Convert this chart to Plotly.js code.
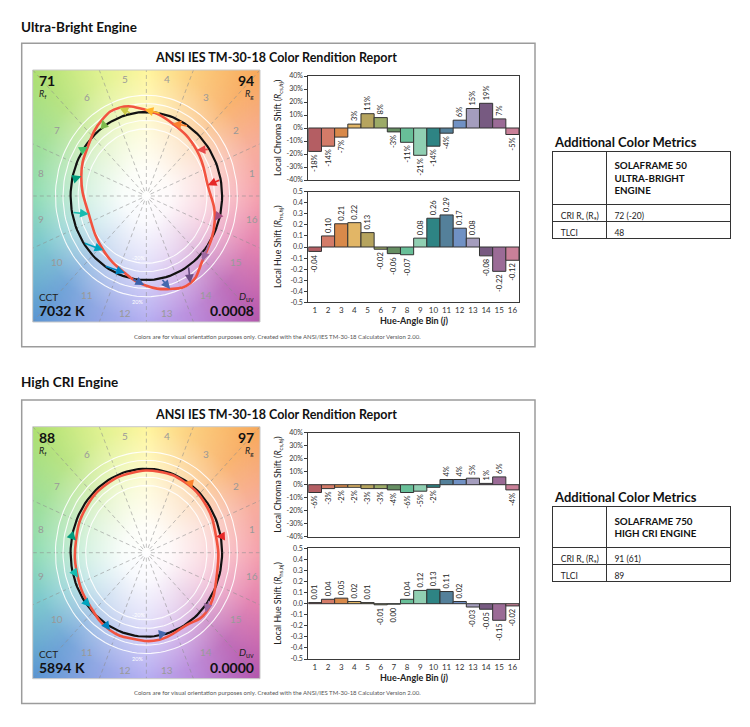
<!DOCTYPE html>
<html><head><meta charset="utf-8">
<script src="https://cdn.plot.ly/plotly-3.0.1.min.js"></script>
<style>html,body{margin:0;padding:0;background:#fff;}#chart{width:750px;height:727px;}</style>
</head><body><div id="chart"></div>
<script>
// ---------- DATA ----------
const bins = [1,2,3,4,5,6,7,8,9,10,11,12,13,14,15,16];
const binTickText = ['1','2','3','4','5','6','7','8','9','10','11','12','13','14','15','16'];
const chromaTickVals = [-40,-30,-20,-10,0,10,20,30,40];
const chromaTickText = ['-40%','-30%','-20%','-10%','0%','10%','20%','30%','40%'];
const hueTickVals = [-0.5,-0.4,-0.3,-0.2,-0.1,0,0.1,0.2,0.3,0.4,0.5];
const hueTickText = ['-0.5','-0.4','-0.3','-0.2','-0.1','0.0','0.1','0.2','0.3','0.4','0.5'];

// Ultra-Bright Engine
const ubChroma = [-18,-14,-7,3,11,8,-3,-11,-21,-14,-4,6,15,19,7,-5];      // Rcs,hj in %
const ubHue = [-0.04,0.10,0.21,0.22,0.13,-0.02,-0.06,-0.07,0.08,0.26,0.29,0.17,0.08,-0.08,-0.22,-0.12];
const ubMetrics = {rf:'71', rg:'94', cct:'7032 K', duv:'0.0008'};
const ubTableHeader = ['SOLAFRAME 50','ULTRA-BRIGHT','ENGINE'];
const ubTableRows = ['CRI\u00a0R\u2090\u00a0(R\u2089)','TLCI'];
const ubTableVals = ['72 (-20)','48'];

// High CRI Engine
const hcChroma = [-6,-3,-2,-2,-3,-3,-4,-6,-5,-2,4,4,5,1,6,-4];
const hcHue = [0.01,0.04,0.05,0.02,0.01,-0.01,-0.004,0.04,0.12,0.13,0.11,0.02,-0.03,-0.05,-0.15,-0.02];
const hcMetrics = {rf:'88', rg:'97', cct:'5894 K', duv:'0.0000'};
const hcTableHeader = ['SOLAFRAME 750','HIGH CRI ENGINE'];
const hcTableRows = ['CRI\u00a0R\u2090\u00a0(R\u2089)','TLCI'];
const hcTableVals = ['91 (61)','89'];

const barColors = ['#b45e63','#d37b68','#d8894a','#e2b666','#b6a45e','#9cab67','#658e62','#68bf98','#90cfb2','#2e8484','#54809a','#7091c4','#a49dbd','#775a81','#9b6b96','#c98098'];
const arrowColors = ['#e62828','#e74b4b','#fb812e','#ffb529','#cbca46','#7eb94c','#41c06d','#009c7c','#16bcb0','#00a4bf','#0085c3','#3b62aa','#4568ae','#6a4e85','#9d69a1','#a74f81'];

// ---------- HELPERS ----------
const W=750, H=727;
const FONT = 'Lato, "Open Sans", sans-serif';
const px = x => x/W, py = y => 1 - y/H;
const axName = i => i===1 ? '' : String(i);

const bgStops=[[0,'#f4909e'],[22.5,'#f6a08c'],[45,'#f8a85a'],[67.5,'#fcc86c'],[90,'#fff48c'],[112.5,'#dcf080'],[135,'#aee070'],[157.5,'#90da8a'],[180,'#7cd6a6'],[202.5,'#68c0c6'],[225,'#5a96d2'],[247.5,'#8498e2'],[270,'#a8a0f0'],[292.5,'#b07cd8'],[315,'#b456ae'],[337.5,'#e070a4'],[360,'#f4909e']];
function hex(c){return [parseInt(c.slice(1,3),16),parseInt(c.slice(3,5),16),parseInt(c.slice(5,7),16)];}
function interp(a){
  for(let i=0;i<bgStops.length-1;i++){
    const [a0,c0]=bgStops[i],[a1,c1]=bgStops[i+1];
    if(a>=a0&&a<=a1){const t=(a-a0)/(a1-a0);const p=hex(c0),q=hex(c1);
      return 'rgb('+p.map((v,k)=>Math.round(v+(q[k]-v)*t)).join(',')+')';}
  }
  return bgStops[0][1];
}
function makeBg(){
  const S=300,c=document.createElement('canvas');c.width=S;c.height=S;
  const ctx=c.getContext('2d');const cx=S/2,cy=S/2,R=S;
  for(let a=0;a<360;a+=0.5){
    ctx.fillStyle=interp(a);ctx.beginPath();ctx.moveTo(cx,cy);
    const a0=(a-0.5)*Math.PI/180,a1=(a+1)*Math.PI/180;
    ctx.lineTo(cx+R*Math.cos(a0),cy-R*Math.sin(a0));
    ctx.lineTo(cx+R*Math.cos(a1),cy-R*Math.sin(a1));
    ctx.closePath();ctx.fill();
  }
  const g=ctx.createRadialGradient(cx,cy,0,cx,cy,S/2*Math.SQRT2);
  g.addColorStop(0,'rgba(255,255,255,1)');
  g.addColorStop(0.15,'rgba(255,255,255,0.95)');
  g.addColorStop(0.35,'rgba(255,255,255,0.72)');
  g.addColorStop(0.5,'rgba(255,255,255,0.47)');
  g.addColorStop(0.7,'rgba(255,255,255,0.16)');
  g.addColorStop(1,'rgba(255,255,255,0)');
  ctx.fillStyle=g;ctx.fillRect(0,0,S,S);
  return c.toDataURL();
}
const bgURL = makeBg();

// geometric helpers (reference circle, rings, bin boundary lines)
function ringXY(radii){
  const x=[],y=[];
  radii.forEach(r=>{for(let d=0;d<=360;d+=3){const a=d*Math.PI/180;x.push(r*Math.cos(a));y.push(r*Math.sin(a));}x.push(null);y.push(null);});
  return {x,y};
}
function spokesXY(){
  const x=[],y=[];
  for(let k=0;k<16;k++){
    const a=k*Math.PI/8,c=Math.cos(a),s=Math.sin(a);
    const t=Math.min(Math.abs(c)>1e-9?1.5/Math.abs(c):99, Math.abs(s)>1e-9?1.5/Math.abs(s):99);
    x.push(0.06*c,t*c,null);y.push(0.06*s,t*s,null);
  }
  return {x,y};
}

const layout = {width:W,height:H,margin:{l:0,r:0,t:0,b:0},paper_bgcolor:'#fff',plot_bgcolor:'rgba(0,0,0,0)',
  showlegend:false,font:{family:FONT,color:'#222'},annotations:[],shapes:[],images:[],bargap:0};
const traces = [];
const ann = a => layout.annotations.push(Object.assign({showarrow:false,font:{family:FONT,size:10,color:'#222'}},a));

function addSection(o){
  const dy=o.dy, gi=o.base, ci=o.base+1, hi=o.base+2;
  const gx='x'+axName(gi), gy='y'+axName(gi), cx='x'+axName(ci), cy='y'+axName(ci), hx='x'+axName(hi), hy='y'+axName(hi);

  ann({xref:'paper',yref:'paper',x:px(19),y:py(27+o.hdy),xanchor:'left',yanchor:'middle',text:'<b>'+o.title+'</b>',font:{family:FONT,size:13.5,color:'#111'}});
  layout.shapes.push({type:'rect',xref:'paper',yref:'paper',x0:px(21.7),x1:px(535),y0:py(346.7+dy),y1:py(43.3+dy),line:{color:'#9c9c9c',width:1.5}});
  ann({xref:'paper',yref:'paper',x:px(276),y:py(57.5+dy),xanchor:'center',yanchor:'middle',text:'<b>ANSI IES TM-30-18 Color Rendition Report</b>',font:{family:FONT,size:12.5,color:'#111'}});
  ann({xref:'paper',yref:'paper',x:px(277),y:py(336+dy),xanchor:'center',yanchor:'middle',text:'Colors are for visual orientation purposes only. Created with the ANSI/IES TM-30-18 Calculator Version 2.00.',font:{family:FONT,size:6,color:'#555'}});

  // ---- graphic ----
  layout['xaxis'+axName(gi)]={domain:[px(32.7),px(260)],range:[-1.5,1.5],visible:false,anchor:gy};
  layout['yaxis'+axName(gi)]={domain:[py(322+dy),py(70+dy)],range:[-1.5,1.5],visible:false,anchor:gx};
  layout.images.push({source:bgURL,xref:gx,yref:gy,x:-1.5,y:1.5,sizex:3,sizey:3,sizing:'stretch',layer:'below',xanchor:'left',yanchor:'top'});
  layout.shapes.push({type:'rect',xref:'paper',yref:'paper',x0:px(32.7),x1:px(260),y0:py(322+dy),y1:py(70+dy),line:{color:'#c8c8c8',width:1}});
  const sp=spokesXY();
  traces.push({type:'scatter',mode:'lines',x:sp.x,y:sp.y,xaxis:gx,yaxis:gy,line:{color:'rgba(140,140,140,0.55)',width:1,dash:'4px,3px'},hoverinfo:'skip',connectgaps:false});
  const rg=ringXY([0.8,0.9,1.1,1.2]);
  traces.push({type:'scatter',mode:'lines',x:rg.x,y:rg.y,xaxis:gx,yaxis:gy,line:{color:'rgba(255,255,255,0.9)',width:1.1},hoverinfo:'skip',connectgaps:false});
  const rc=ringXY([1]);
  traces.push({type:'scatter',mode:'lines',x:rc.x,y:rc.y,xaxis:gx,yaxis:gy,line:{color:'#111',width:2.2},hoverinfo:'skip'});

  const tx=[],ty=[];
  bins.forEach((b,j)=>{
    const th=(b-0.5)*Math.PI/8, r=1+o.chroma[j]/100, a=th+o.hue[j];
    tx.push(r*Math.cos(a)); ty.push(r*Math.sin(a));
  });
  traces.push({type:'scatter',mode:'lines',x:tx.concat([tx[0]]),y:ty.concat([ty[0]]),xaxis:gx,yaxis:gy,
    line:{color:'#f2533f',width:2.6,shape:'spline',smoothing:1.3},hoverinfo:'skip'});
  bins.forEach((b,j)=>{
    const th=(b-0.5)*Math.PI/8;
    layout.annotations.push({xref:gx,yref:gy,axref:gx,ayref:gy,x:tx[j],y:ty[j],ax:Math.cos(th),ay:Math.sin(th),
      showarrow:true,arrowhead:2,arrowsize:1.1,arrowwidth:1.6,arrowcolor:arrowColors[j],text:'',standoff:0,startstandoff:0});
    ann({xref:gx,yref:gy,x:1.42*Math.cos(th),y:1.42*Math.sin(th),text:binTickText[j],font:{family:FONT,size:10,color:'#999999'}});
  });
  ann({xref:gx,yref:gy,x:-0.1,y:-0.74,text:'-20%',font:{family:FONT,size:5.5,color:'#ffffff'}});
  ann({xref:gx,yref:gy,x:-0.12,y:-1.26,text:'20%',font:{family:FONT,size:5.5,color:'#ffffff'}});
  ann({xref:'paper',yref:'paper',x:px(37),y:py(80.5+dy),xanchor:'left',yanchor:'middle',text:'<b>'+o.m.rf+'</b>',font:{family:FONT,size:14,color:'#111'}});
  ann({xref:'paper',yref:'paper',x:px(37),y:py(94+dy),xanchor:'left',yanchor:'middle',text:'<i>R</i><sub>f</sub>',font:{family:FONT,size:9,color:'#222'}});
  ann({xref:'paper',yref:'paper',x:px(256),y:py(80.5+dy),xanchor:'right',yanchor:'middle',text:'<b>'+o.m.rg+'</b>',font:{family:FONT,size:14,color:'#111'}});
  ann({xref:'paper',yref:'paper',x:px(256),y:py(94+dy),xanchor:'right',yanchor:'middle',text:'<i>R</i><sub>g</sub>',font:{family:FONT,size:9,color:'#222'}});
  ann({xref:'paper',yref:'paper',x:px(37),y:py(297+dy),xanchor:'left',yanchor:'middle',text:'CCT',font:{family:FONT,size:10,color:'#222'}});
  ann({xref:'paper',yref:'paper',x:px(37),y:py(310.5+dy),xanchor:'left',yanchor:'middle',text:'<b>'+o.m.cct+'</b>',font:{family:FONT,size:14,color:'#111'}});
  ann({xref:'paper',yref:'paper',x:px(256),y:py(296+dy),xanchor:'right',yanchor:'middle',text:'<i>D</i><sub>uv</sub>',font:{family:FONT,size:10,color:'#222'}});
  ann({xref:'paper',yref:'paper',x:px(256),y:py(310.5+dy),xanchor:'right',yanchor:'middle',text:'<b>'+o.m.duv+'</b>',font:{family:FONT,size:14,color:'#111'}});

  // ---- chroma chart ----
  const axLine={showline:true,mirror:true,linecolor:'#3a3a3a',linewidth:1,showgrid:false,zeroline:false};
  layout['xaxis'+axName(ci)]=Object.assign({domain:[px(308.3),px(519)],range:[0.5,16.5],showticklabels:false,ticks:'',anchor:cy},axLine);
  layout['yaxis'+axName(ci)]=Object.assign({domain:[py(180+dy),py(76+dy)],range:[-40,40],tickmode:'array',tickvals:chromaTickVals,ticktext:chromaTickText,
    ticks:'outside',ticklen:3,tickcolor:'#3a3a3a',tickfont:{family:FONT,size:7,color:'#333'},anchor:cx},axLine);
  traces.push({type:'bar',x:bins,y:o.chroma,xaxis:cx,yaxis:cy,marker:{color:barColors,line:{color:'#333',width:1}},
    text:o.chroma.map(v=>Math.round(v)+'%'),textposition:'outside',textangle:-90,textfont:{family:FONT,size:7.5,color:'#222'},
    cliponaxis:false,constraintext:'none',hoverinfo:'skip'});
  ann({xref:'paper',yref:'paper',x:px(278),y:py(128+dy),textangle:-90,xanchor:'center',yanchor:'middle',
    text:'Local Chroma Shift (<i>R</i><sub>cs,<i>h</i>j</sub>)',font:{family:FONT,size:8.8,color:'#222'}});

  // ---- hue chart ----
  layout['xaxis'+axName(hi)]=Object.assign({domain:[px(308.3),px(519)],range:[0.5,16.5],tickmode:'array',tickvals:bins,ticktext:binTickText,ticks:'',
    tickfont:{family:FONT,size:8,color:'#333'},anchor:hy},axLine);
  layout['yaxis'+axName(hi)]=Object.assign({domain:[py(302.3+dy),py(191.7+dy)],range:[-0.5,0.5],tickmode:'array',tickvals:hueTickVals,ticktext:hueTickText,
    ticks:'outside',ticklen:3,tickcolor:'#3a3a3a',tickfont:{family:FONT,size:7,color:'#333'},anchor:hx},axLine);
  traces.push({type:'bar',x:bins,y:o.hue,xaxis:hx,yaxis:hy,marker:{color:barColors,line:{color:'#333',width:1}},
    text:o.hue.map(v=>(Math.round(v*100)/100).toFixed(2)),textposition:'outside',textangle:-90,textfont:{family:FONT,size:7.5,color:'#222'},
    cliponaxis:false,constraintext:'none',hoverinfo:'skip'});
  ann({xref:'paper',yref:'paper',x:px(278),y:py(247+dy),textangle:-90,xanchor:'center',yanchor:'middle',
    text:'Local Hue Shift (<i>R</i><sub>hs,<i>h</i>j</sub>)',font:{family:FONT,size:8.8,color:'#222'}});
  ann({xref:'paper',yref:'paper',x:px(413.5),y:py(321+dy),xanchor:'center',yanchor:'middle',
    text:'<b>Hue-Angle Bin (<i>j</i>)</b>',font:{family:FONT,size:9,color:'#222'}});

  // ---- table ----
  ann({xref:'paper',yref:'paper',x:px(551.5),y:py(o.tTitle),xanchor:'left',yanchor:'middle',text:'<b>Additional Color Metrics</b>',font:{family:FONT,size:13,color:'#111'}});
  traces.push({type:'table',domain:{x:[px(552.7),px(731.7)],y:[py(o.tTop+140),py(o.tTop)]},columnwidth:[54,125],
    header:{values:['',o.thead.map(s=>'<b>'+s+'</b>').join('<br>')],align:'left',height:o.hh,
      font:{family:FONT,size:9.8,color:'#111'},line:{color:'#333',width:1},fill:{color:'#fff'}},
    cells:{values:[o.trows,o.tvals],align:'left',height:17,font:{family:FONT,size:8.5,color:'#222'},
      line:{color:'#333',width:1},fill:{color:'#fff'}}});
}

addSection({base:1,dy:0,hdy:0,title:'Ultra-Bright Engine',chroma:ubChroma,hue:ubHue,m:ubMetrics,
  thead:ubTableHeader,trows:ubTableRows,tvals:ubTableVals,tTop:151,tTitle:142.2,hh:49});
addSection({base:4,dy:356.7,hdy:354.5,title:'High CRI Engine',chroma:hcChroma,hue:hcHue,m:hcMetrics,
  thead:hcTableHeader,trows:hcTableRows,tvals:hcTableVals,tTop:506.5,tTitle:497.2,hh:35.6});

Plotly.newPlot('chart',traces,layout,{staticPlot:true,displayModeBar:false});
</script>
</body></html>
